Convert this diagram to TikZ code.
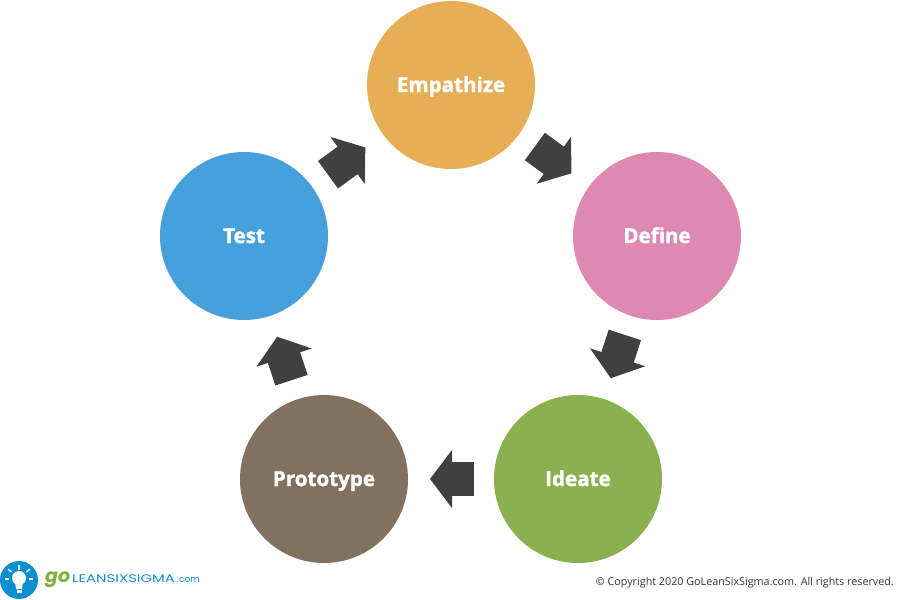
\documentclass[tikz,border=0pt]{standalone}
\usepackage{fontspec}
\usepackage{tikz}
\usetikzlibrary{arrows.meta}
\setmainfont{Open Sans}[BoldFeatures={FakeBold=1.6}]
\newfontfamily\logofont{Poppins}

\definecolor{empathizecolor}{HTML}{E6AE57}
\definecolor{definecolor}{HTML}{DE89B2}
\definecolor{ideatecolor}{HTML}{8BB04F}
\definecolor{prototypecolor}{HTML}{837160}
\definecolor{testcolor}{HTML}{45A0DB}
\definecolor{arrowcolor}{HTML}{404040}
\definecolor{logoblue}{HTML}{0C8FCF}
\definecolor{logogreen}{HTML}{7FB13C}

\tikzset{
  phase/.style={circle, minimum size=168pt, inner sep=0, outer sep=0, text=white, text height=14pt, text depth=0pt, font=\fontsize{20.6}{24}\selectfont\bfseries},
  blockarrow/.style={line width=34pt, color=arrowcolor, shorten <=20pt, shorten >=22pt, -{Triangle[length=22pt, width=57pt]}},
  bulbray/.style={line width=1.3pt, color=white}
}

\begin{document}
\begin{tikzpicture}[x=1pt, y=-1pt]
\useasboundingbox (0, 0) rectangle (900, 600);

\node[phase, fill=empathizecolor] (empathize) at (451, 85) {Empathize};
\node[phase, fill=definecolor] (define) at (657, 236) {Define};
\node[phase, fill=ideatecolor] (ideate) at (578, 479) {Ideate};
\node[phase, fill=prototypecolor] (prototype) at (324, 479) {Prototype};
\node[phase, fill=testcolor] (test) at (244, 236) {Test};

\draw[blockarrow] (empathize) -- (define);
\draw[blockarrow] (define) -- (ideate);
\draw[blockarrow] (ideate) -- (prototype);
\draw[blockarrow] (prototype) -- (test);
\draw[blockarrow] (test) -- (empathize);

% logo
\fill[logoblue] (19, 580) circle (19);
\fill[white] (19, 578) circle (7);
\fill[white] (15, 581) -- (23, 581) -- (22, 589) -- (16, 589) -- cycle;
\fill[white] (16.5, 590) rectangle (21.5, 593);
\draw[bulbray] (19, 565) -- (19, 570);
\draw[bulbray] (8, 569) -- (11.5, 572);
\draw[bulbray] (30, 569) -- (26.5, 572);
\draw[bulbray] (5, 579) -- (9, 579);
\draw[bulbray] (33, 579) -- (29, 579);

\node[anchor=base west, inner sep=0, text=logogreen, font=\fontsize{19}{22}\logofont\bfseries\itshape] (logogo) at (45, 582) {go};
\node[anchor=base west, inner sep=0, text=logoblue, font=\fontsize{11}{13}\logofont] (logolean) at (72, 582) {\scalebox{1.35}[1]{LEANSIXSIGMA}};
\node[anchor=base west, inner sep=0, text=logoblue, font=\fontsize{9}{11}\logofont] (logocom) at (177, 582) {.com};

\node[anchor=base east, inner sep=0, text=black!80, font=\fontsize{10.76}{14}\selectfont] (copyright) at (894, 585) {© Copyright 2020 GoLeanSixSigma.com. All rights reserved.};
\end{tikzpicture}
\end{document}
